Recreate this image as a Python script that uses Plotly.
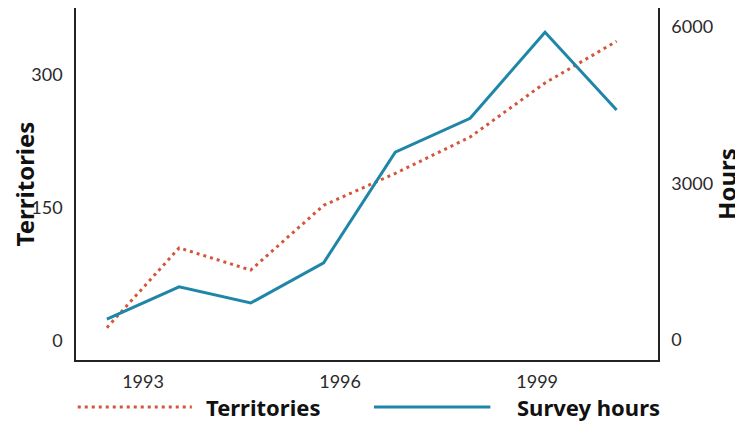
import plotly.graph_objects as go

# Data
years = [1992.45, 1993.55, 1994.64, 1995.75, 1996.84, 1997.98, 1999.12, 2000.21]
territories = [15, 105, 80, 153, 189, 230, 291, 338]
survey_hours = [400, 1020, 710, 1480, 3600, 4250, 5900, 4410]

x_ticks = [1993, 1996, 1999]
left_ticks = [0, 150, 300]
right_ticks = [0, 3000, 6000]

RED = "#d4553a"
BLUE = "#1f86a8"
AXIS = "#222222"
FONT = "Lato"
HEAVY = dict(family="Noto Sans", size=24, color="#111111", weight="bold")
LEG = dict(family="Noto Sans", size=22, color="#111111", weight="bold")

fig = go.Figure()
fig.add_trace(go.Scatter(x=years, y=territories, mode="lines", name="Territories",
                         line=dict(color=RED, width=3, dash="3px,4px"), yaxis="y"))
fig.add_trace(go.Scatter(x=years, y=survey_hours, mode="lines", name="Survey hours",
                         line=dict(color=BLUE, width=3), yaxis="y2"))

# page body has an 8px margin, so the figure is 8px smaller than the window
fig.update_layout(
    width=735, height=414,
    margin=dict(l=68, r=85, t=0, b=62, autoexpand=False),
    paper_bgcolor="white", plot_bgcolor="white",
    showlegend=False,
    font=dict(family=FONT, color="#2a2a2a", size=18),
    xaxis=dict(range=[1991.98, 2000.84], tickvals=x_ticks, ticktext=[str(v) for v in x_ticks],
               showgrid=False, zeroline=False, showline=True, linecolor=AXIS, linewidth=1.5,
               ticks="", ticklabelstandoff=5, automargin=False),
    yaxis=dict(range=[-21.4, 375.5], tickvals=left_ticks, showgrid=False, zeroline=False,
               showline=True, linecolor=AXIS, linewidth=1.5, ticks="", ticklabelstandoff=8,
               automargin=True,
               title=dict(text="Territories", font=HEAVY, standoff=18)),
    yaxis2=dict(range=[-383, 6364], tickvals=right_ticks, overlaying="y", side="right",
                showgrid=False, zeroline=False, showline=True, linecolor=AXIS, linewidth=1.5,
                ticks="", ticklabelstandoff=8, automargin=True,
                title=dict(text="Hours", font=HEAVY, standoff=5)),
)

# Custom legend (long line keys as in the reference)
leg_y = -0.1335
fig.add_shape(type="line", xref="paper", yref="paper", x0=0.003, x1=0.199, y0=leg_y, y1=leg_y,
              line=dict(color=RED, width=3, dash="3px,4px"))
fig.add_shape(type="line", xref="paper", yref="paper", x0=0.512, x1=0.712, y0=leg_y, y1=leg_y,
              line=dict(color=BLUE, width=3))
fig.add_annotation(xref="paper", yref="paper", x=0.222, y=leg_y, xanchor="left", yanchor="middle",
                   text="Territories", showarrow=False, font=LEG, borderpad=0)
fig.add_annotation(xref="paper", yref="paper", x=1.006, y=leg_y, xanchor="right", yanchor="middle",
                   text="Survey hours", showarrow=False, font=LEG, borderpad=0)

fig.write_html("out.html")
